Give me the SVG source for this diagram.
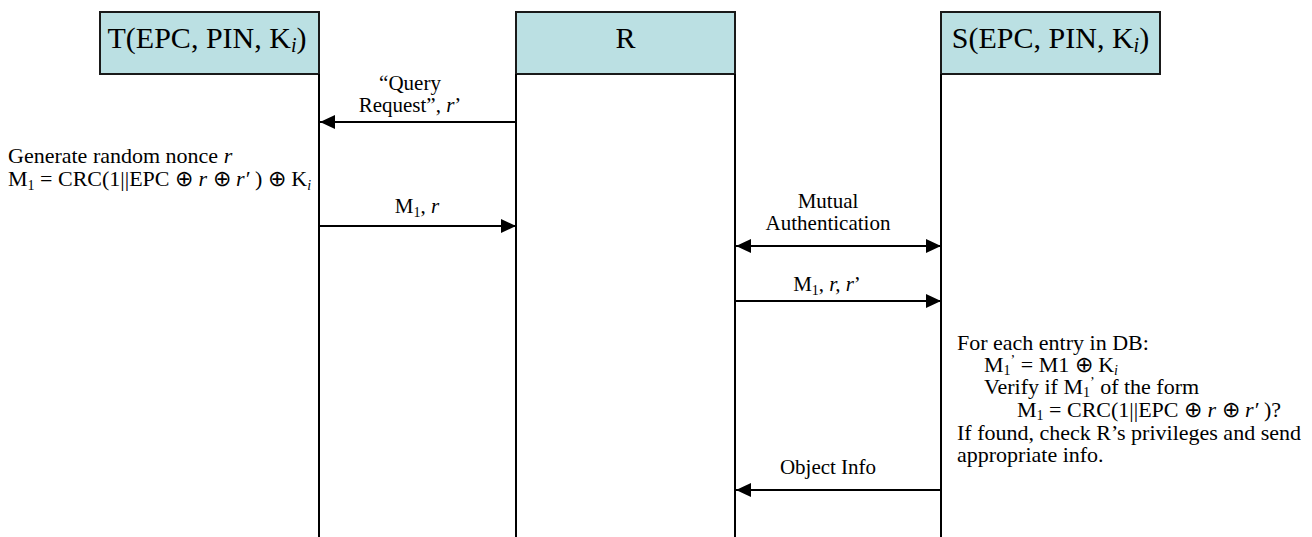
<svg xmlns="http://www.w3.org/2000/svg" width="1312" height="537" viewBox="0 0 1312 537">
  <style>
    .box { fill: #BBE0E3; stroke: #1a1a1a; stroke-width: 2; }
    .life { stroke: #000; stroke-width: 2; fill: none; }
    .msg { stroke: #000; stroke-width: 2; fill: none; }
    .title { font-family: "Liberation Serif", "Times New Roman", serif; font-size: 30px; fill: #000; text-anchor: middle; }
    .t { font-family: "Liberation Serif", "Times New Roman", serif; font-size: 21px; fill: #000; }
    .n { font-family: "Liberation Serif", "Times New Roman", serif; font-size: 22px; fill: #000; }
    .c { text-anchor: middle; }
    .i { font-style: italic; }
    .sub { font-size: 14px; }
    .subT { font-size: 20px; }
  </style>
  <defs>
    <marker id="head" viewBox="0 0 15 14" refX="15" refY="7" markerWidth="15" markerHeight="14" markerUnits="userSpaceOnUse" orient="auto-start-reverse">
      <path d="M0,0 L15,7 L0,14 z" fill="#000"/>
    </marker>
  </defs>

  <g id="node-T">
    <rect class="box" x="100" y="12" width="219" height="62"/>
    <line class="life" x1="319" y1="74" x2="319" y2="537"/>
    <text class="title" x="207" y="48">T(EPC, PIN, K<tspan class="subT i" dy="4">i</tspan><tspan dy="-4">)</tspan></text>
  </g>

  <g id="node-R">
    <rect class="box" x="516" y="12" width="219" height="62"/>
    <line class="life" x1="516" y1="74" x2="516" y2="537"/>
    <line class="life" x1="735" y1="74" x2="735" y2="537"/>
    <text class="title" x="625.5" y="48">R</text>
  </g>

  <g id="node-S">
    <rect class="box" x="941" y="12" width="219" height="62"/>
    <line class="life" x1="941" y1="74" x2="941" y2="537"/>
    <text class="title" x="1050.5" y="48">S(EPC, PIN, K<tspan class="subT i" dy="4">i</tspan><tspan dy="-4">)</tspan></text>
  </g>

  <g id="connectors">
    <line class="msg" x1="516" y1="122" x2="320" y2="122" marker-end="url(#head)"/>
    <line class="msg" x1="320" y1="226" x2="516" y2="226" marker-end="url(#head)"/>
    <line class="msg" x1="736" y1="246" x2="941" y2="246" marker-start="url(#head)" marker-end="url(#head)"/>
    <line class="msg" x1="736" y1="301" x2="941" y2="301" marker-end="url(#head)"/>
    <line class="msg" x1="941" y1="490" x2="736" y2="490" marker-end="url(#head)"/>
  </g>

  <g id="labels">
    <text class="t c" x="410" y="90">“Query</text>
    <text class="t c" x="410" y="112">Request”, <tspan class="i">r</tspan>’</text>
    <text class="t c" x="417" y="213">M<tspan class="sub" dy="4">1</tspan><tspan dy="-4">, </tspan><tspan class="i">r</tspan></text>
    <text class="t c" x="828" y="208">Mutual</text>
    <text class="t c" x="828" y="230">Authentication</text>
    <text class="t c" x="827" y="291">M<tspan class="sub" dy="4">1</tspan><tspan dy="-4">, </tspan><tspan class="i">r, r</tspan>’</text>
    <text class="t c" x="828" y="474">Object Info</text>
  </g>

  <g id="note-T">
    <text class="n" x="8" y="163">Generate random nonce <tspan class="i">r</tspan></text>
    <text class="n" x="8" y="186">M<tspan class="sub" dy="4">1</tspan><tspan dy="-4"> = CRC(1||EPC ⊕ </tspan><tspan class="i">r</tspan> ⊕ <tspan class="i">r′</tspan> ) ⊕ K<tspan class="sub i" dy="4">i</tspan></text>
  </g>

  <g id="note-S">
    <text class="n" x="957" y="350">For each entry in DB:</text>
    <text class="n" x="984" y="372">M<tspan class="sub" dy="3">1</tspan><tspan class="sub" dy="-10">’</tspan><tspan dy="7"> = M1 ⊕ K</tspan><tspan class="sub i" dy="3">i</tspan></text>
    <text class="n" x="984" y="394">Verify if M<tspan class="sub" dy="3">1</tspan><tspan class="sub" dy="-10">’</tspan><tspan dy="7"> of the form</tspan></text>
    <text class="n" x="1017" y="417">M<tspan class="sub" dy="3">1</tspan><tspan dy="-3"> = CRC(1||EPC ⊕ </tspan><tspan class="i">r</tspan> ⊕ <tspan class="i">r′</tspan> )?</text>
    <text class="n" x="957" y="440">If found, check R’s privileges and send</text>
    <text class="n" x="957" y="462">appropriate info.</text>
  </g>
</svg>
